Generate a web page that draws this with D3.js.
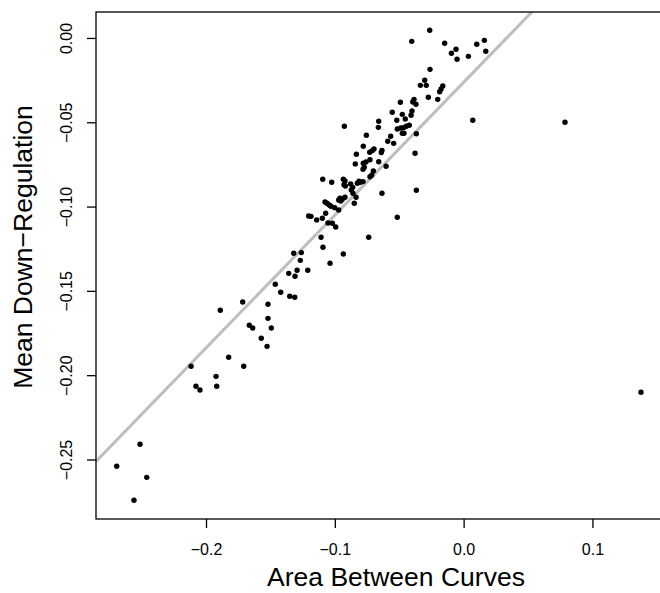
<!DOCTYPE html>
<html>
<head>
<meta charset="utf-8">
<script src="https://cdn.jsdelivr.net/npm/d3@7"></script>
<style>
  body { margin: 0; background: #fff; }
  svg { display: block; font-family: "Liberation Sans", Arial, Helvetica, sans-serif; }
</style>
</head>
<body>
<svg id="chart" width="660" height="593"></svg>
<script>
// area between curves (x) vs mean down-regulation (y)
const abc = [
  -0.0263, -0.0403, -0.0147, 0.0102, 0.0161, -0.0059, -0.0095, 0.0037, -0.0051, 0.0172,
  -0.0261, -0.0302, -0.0336, -0.0290, -0.0162, -0.0175, -0.0186, -0.0274, -0.0201, -0.0491,
  -0.0385, -0.0395, -0.0370, -0.0554, -0.0476, -0.0401, -0.0408, -0.0519, -0.0453, -0.0659,
  -0.0926, -0.0662, -0.0422, -0.0445, -0.0468, -0.0515, -0.0488, -0.0476, -0.0463, 0.0071,
  -0.0755, -0.0566, -0.0367, -0.0589, -0.0543, -0.0779, -0.0833, -0.0729, -0.0709, -0.0696,
  -0.0634, -0.0639, -0.0377, -0.0841, -0.0779, -0.0727, -0.0758, -0.0659, -0.0781, -0.0771,
  -0.0602, -0.0701, -0.1094, -0.1024, -0.0934, -0.0921, -0.0929, -0.0918, -0.0877, -0.0861,
  -0.0872, -0.0812, -0.0802, -0.0825, -0.0781, -0.0727, -0.0714, -0.0634, -0.0367, -0.0835,
  -0.0849, -0.0859, -0.1076, -0.1061, -0.1043, -0.1030, -0.1001, -0.0960, -0.0970, -0.0954,
  -0.0942, -0.0921, -0.0970, -0.1203, -0.1185, -0.1141, -0.1097, -0.1071, -0.1053, -0.1019,
  -0.0993, -0.0515, -0.1107, -0.0737, -0.1092, -0.0934, -0.1037, -0.1319, -0.1260, -0.1268,
  -0.1293, -0.1309, -0.1358, -0.1210, -0.1462, -0.1420, -0.1350, -0.1311, -0.1715, -0.1889,
  -0.1519, -0.1519, -0.1664, -0.1637, -0.1493, -0.1571, -0.1526, -0.1824, -0.1707, -0.2116,
  -0.1922, -0.2078, -0.2047, -0.1917, -0.2512, -0.2693, -0.2460, -0.2559, 0.0787, 0.1377
];
const meanDown = [
  0.0046, -0.0020, -0.0031, -0.0037, -0.0014, -0.0067, -0.0091, -0.0109, -0.0126, -0.0079,
  -0.0186, -0.0251, -0.0281, -0.0281, -0.0285, -0.0302, -0.0319, -0.0352, -0.0364, -0.0381,
  -0.0364, -0.0380, -0.0393, -0.0441, -0.0453, -0.0433, -0.0458, -0.0488, -0.0480, -0.0494,
  -0.0524, -0.0530, -0.0518, -0.0524, -0.0532, -0.0540, -0.0534, -0.0565, -0.0565, -0.0488,
  -0.0577, -0.0583, -0.0568, -0.0613, -0.0625, -0.0642, -0.0690, -0.0678, -0.0668, -0.0658,
  -0.0667, -0.0679, -0.0684, -0.0747, -0.0743, -0.0722, -0.0735, -0.0734, -0.0779, -0.0767,
  -0.0761, -0.0789, -0.0838, -0.0856, -0.0838, -0.0848, -0.0870, -0.0878, -0.0866, -0.0886,
  -0.0902, -0.0850, -0.0856, -0.0862, -0.0852, -0.0823, -0.0814, -0.0921, -0.0903, -0.0945,
  -0.0980, -0.0921, -0.0973, -0.0980, -0.0991, -0.0998, -0.1007, -0.0951, -0.0961, -0.0967,
  -0.0957, -0.0945, -0.1020, -0.1056, -0.1058, -0.1079, -0.1069, -0.1040, -0.1097, -0.1099,
  -0.1121, -0.1063, -0.1182, -0.1182, -0.1241, -0.1281, -0.1336, -0.1277, -0.1273, -0.1319,
  -0.1378, -0.1413, -0.1396, -0.1378, -0.1461, -0.1508, -0.1532, -0.1538, -0.1566, -0.1615,
  -0.1579, -0.1663, -0.1704, -0.1720, -0.1720, -0.1781, -0.1829, -0.1894, -0.1947, -0.1947,
  -0.2007, -0.2066, -0.2088, -0.2066, -0.2410, -0.2540, -0.2606, -0.2742, -0.0500, -0.2101
];

// fitted line (abline)
const fitIntercept = -0.0263;
const fitSlope = 0.788;

const xTicks = [-0.2, -0.1, 0.0, 0.1];
const yTicks = [0.00, -0.05, -0.10, -0.15, -0.20, -0.25];

const xLabel = "Area Between Curves";
const yLabel = "Mean Down\u2212Regulation";

const data = abc.map((v, i) => ({x: v, y: meanDown[i]}));

const box = {left: 96, right: 696, top: 12, bottom: 519};

const svg = d3.select("#chart");

const x = d3.scaleLinear()
    .domain([-0.2854, 0.1804])  // plot limits (the right edge lies outside the picture)
    .range([box.left, box.right]);

const y = d3.scaleLinear()
    .domain([-0.2853, 0.0154])
    .range([box.bottom, box.top]);

const fmtMinus = s => s.replace("-", "\u2212");

svg.append("defs").append("clipPath")
    .attr("id", "plotclip")
    .append("rect")
    .attr("x", box.left)
    .attr("y", box.top)
    .attr("width", box.right - box.left)
    .attr("height", box.bottom - box.top);

// fitted line, clipped to the plot region
const xd = x.domain();
svg.append("line")
    .attr("clip-path", "url(#plotclip)")
    .attr("x1", x(xd[0]))
    .attr("y1", y(fitIntercept + fitSlope * xd[0]))
    .attr("x2", x(xd[1]))
    .attr("y2", y(fitIntercept + fitSlope * xd[1]))
    .attr("stroke", "#bebebe")
    .attr("stroke-width", 3);

// points
svg.append("g")
    .selectAll("circle")
    .data(data)
    .join("circle")
    .attr("cx", d => x(d.x))
    .attr("cy", d => y(d.y))
    .attr("r", 2.7)
    .attr("fill", "#000");

// box
svg.append("rect")
    .attr("x", box.left)
    .attr("y", box.top)
    .attr("width", box.right - box.left)
    .attr("height", box.bottom - box.top)
    .attr("fill", "none")
    .attr("stroke", "#000")
    .attr("stroke-width", 1.3);

// x axis
const xAxis = d3.axisBottom(x)
    .tickValues(xTicks)
    .tickSize(9)
    .tickPadding(0)
    .tickFormat(d => fmtMinus(d3.format(".1f")(d)));

svg.append("g")
    .attr("transform", `translate(0,${box.bottom})`)
    .call(xAxis)
    .call(g => g.select(".domain").remove())
    .call(g => g.selectAll(".tick line").attr("stroke", "#000").attr("stroke-width", 1.3))
    .call(g => g.selectAll(".tick text")
        .attr("y", 36)
        .attr("dy", null)
        .attr("fill", "#000")
        .style("font-size", "16px"));

// y axis (labels rotated like R's las=0)
const yAxis = d3.axisLeft(y)
    .tickValues(yTicks)
    .tickSize(9)
    .tickFormat(d => fmtMinus(d3.format(".2f")(d)));

svg.append("g")
    .attr("transform", `translate(${box.left},0)`)
    .call(yAxis)
    .call(g => g.select(".domain").remove())
    .call(g => g.selectAll(".tick line").attr("stroke", "#000").attr("stroke-width", 1.3))
    .call(g => g.selectAll(".tick text")
        .attr("x", null)
        .attr("dy", null)
        .attr("transform", "translate(-24,0) rotate(-90)")
        .attr("text-anchor", "middle")
        .attr("fill", "#000")
        .style("font-size", "16px"));

// axis titles
svg.append("text")
    .attr("x", (box.left + box.right) / 2)
    .attr("y", 586)
    .attr("text-anchor", "middle")
    .style("font-size", "26.5px")
    .text(xLabel);

svg.append("text")
    .attr("transform", "translate(32,247) rotate(-90)")
    .attr("text-anchor", "middle")
    .style("font-size", "26.5px")
    .text(yLabel);
</script>
</body>
</html>
